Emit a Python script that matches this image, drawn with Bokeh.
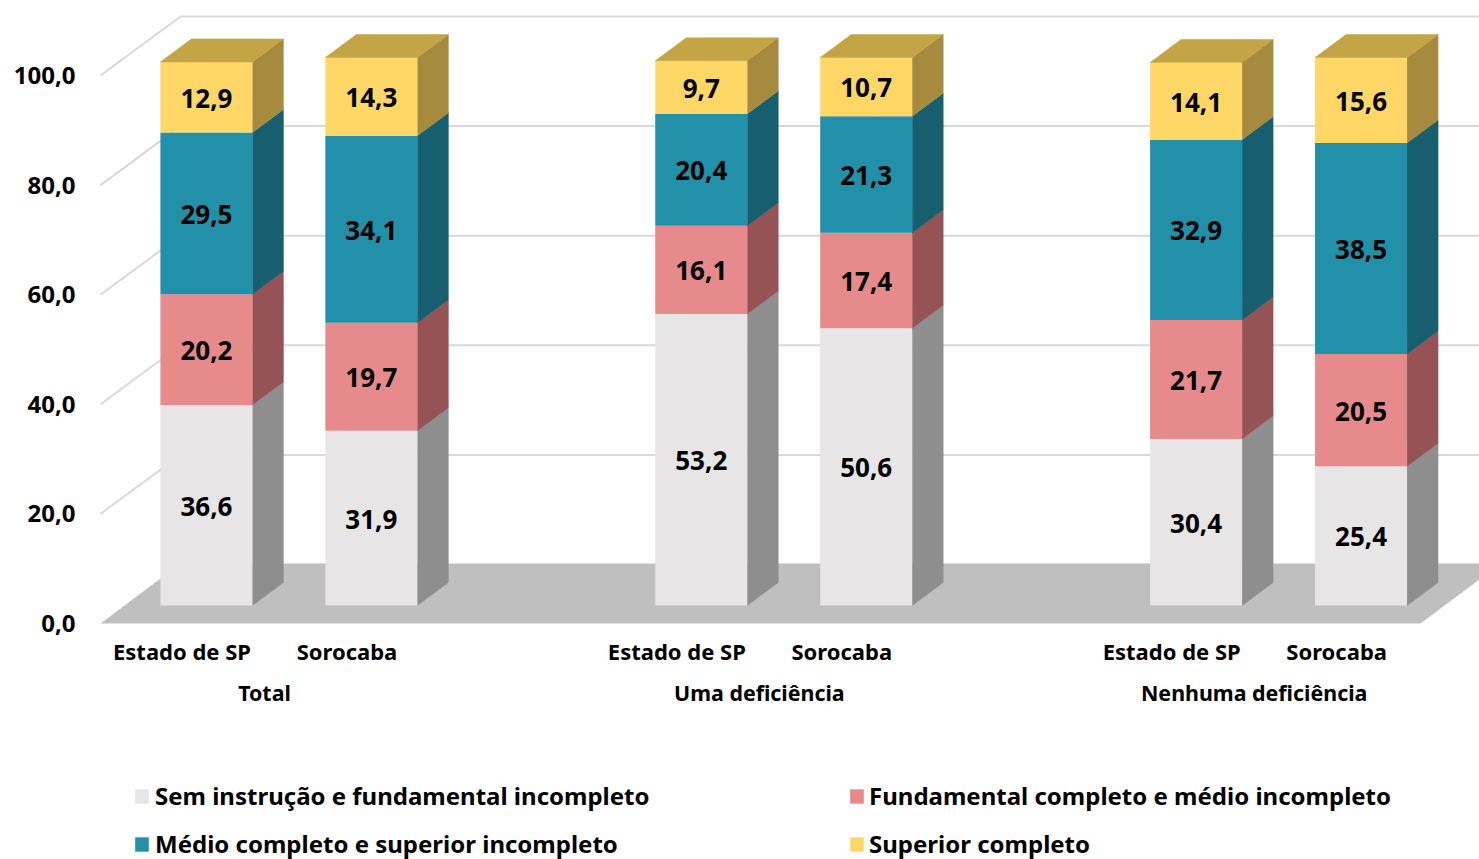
from bokeh.plotting import figure
from bokeh.models import (ColumnDataSource, FixedTicker, LinearAxis, Range1d, Legend, LegendItem)
from bokeh.embed import file_html
from bokeh.resources import INLINE
from bokeh.core.properties import value

# ---- data ----
places = ["Estado de SP", "Sorocaba", "Estado de SP", "Sorocaba", "Estado de SP", "Sorocaba"]
groups = ["Total", "Uma deficiência", "Nenhuma deficiência"]
series_names = ["Sem instrução e fundamental incompleto",
                "Fundamental completo e médio incompleto",
                "Médio completo e superior incompleto",
                "Superior completo"]
sem_instrucao = [36.6, 31.9, 53.2, 50.6, 30.4, 25.4]
fundamental = [20.2, 19.7, 16.1, 17.4, 21.7, 20.5]
medio = [29.5, 34.1, 20.4, 21.3, 32.9, 38.5]
superior = [12.9, 14.3, 9.7, 10.7, 14.1, 15.6]
y_ticks = [0, 20, 40, 60, 80, 100]
y_tick_labels = ["0,0", "20,0", "40,0", "60,0", "80,0", "100,0"]

# ---- style / geometry ----
front_cols = ["#E7E5E6", "#E68A8C", "#2190A8", "#FFD766"]
side_cols = ["#8E8E8E", "#955356", "#175E6E", "#A68B3F"]
top_col = "#C4A546"
floor_col = "#BFBFBF"
grid_col = "#D9D9D9"
FONT = "Noto Sans"

W, H = 1479, 859
FRAME_L = 80
PX_CAT = 164.95          # px per category step
X0 = 182.5               # page px of category 0
PX_VAL = 5.48            # px per y unit
Y0 = 623                 # page px of value 0

def xd(px):
    return (px - X0) / PX_CAT

def dy(px):
    return px / PX_VAL

def yd(px):
    return (Y0 - px) / PX_VAL

x_pos = [0, 1, 3, 4, 6, 7]
group_pos = [0.5, 3.5, 6.5]
bar_shift = 23.4 / PX_CAT
bar_half = 46 / PX_CAT
depth_x = 31 / PX_CAT
depth_y = dy(23)
base = dy(18)
wall_x = 80 / PX_CAT
wall_y = dy(60)
grid_rise = dy(59)
floor_left = -0.5
label_nudge_x = 1 / PX_CAT
label_nudge_y = dy(1)

p = figure(width=W, height=H, output_backend="svg", toolbar_location=None,
           x_range=Range1d(xd(FRAME_L), xd(W)),
           y_range=Range1d(yd(H), yd(0)),
           min_border_left=FRAME_L, min_border_right=0,
           min_border_top=0, min_border_bottom=0,
           outline_line_color=None, background_fill_color=None)
p.xaxis.visible = False
p.yaxis.visible = False
p.xgrid.visible = False
p.ygrid.visible = False

# floor
fx = [floor_left, floor_left + wall_x, xd(1420) + wall_x, xd(1420)]
p.patch(fx, [0, wall_y, wall_y, 0], fill_color=floor_col, line_color=None)

# wall grid
gx, gy = [], []
for t in y_ticks[1:]:
    gx.append([floor_left, floor_left + wall_x, xd(1500)])
    gy.append([t, t + grid_rise, t + grid_rise])
p.multi_line(gx, gy, line_color=grid_col, line_width=2)

# bars
series = [sem_instrucao, fundamental, medio, superior]
cum = [0.0] * len(x_pos)
lefts = [x + bar_shift - bar_half for x in x_pos]
rights = [x + bar_shift + bar_half for x in x_pos]
centers = [x + bar_shift for x in x_pos]
fronts = []
lab_x, lab_y, lab_t = [], [], []
for s, vals in enumerate(series):
    bottoms = [base + c for c in cum]
    tops = [b + v for b, v in zip(bottoms, vals)]
    src = ColumnDataSource(dict(left=lefts, right=rights, bottom=bottoms, top=tops))
    side_x = [[r, r + depth_x, r + depth_x, r] for r in rights]
    side_y = [[b, b + depth_y, t + depth_y, t] for b, t in zip(bottoms, tops)]
    p.patches(side_x, side_y, fill_color=side_cols[s], line_color=side_cols[s], line_width=0.5)
    fronts.append(p.quad(left="left", right="right", bottom="bottom", top="top", source=src,
                         fill_color=front_cols[s], line_color=None))
    lab_x += centers
    lab_y += [(b + t) / 2 - label_nudge_y for b, t in zip(bottoms, tops)]
    lab_t += [f"{v:.1f}".replace(".", ",") for v in vals]
    cum = [c + v for c, v in zip(cum, vals)]

top_y0 = [base + c for c in cum]
top_x = [[l, l + depth_x, r + depth_x, r] for l, r in zip(lefts, rights)]
top_y = [[t, t + depth_y, t + depth_y, t] for t in top_y0]
p.patches(top_x, top_y, fill_color=top_col, line_color=top_col, line_width=0.5)

p.text(lab_x, lab_y, text=lab_t, text_align="center", text_baseline="middle",
       text_font=value("Open Sans"), text_font_style="bold", text_font_size="26px", text_color="#000000")

# axes
yax = LinearAxis(ticker=FixedTicker(ticks=y_ticks),
                 major_label_overrides={t: l for t, l in zip(y_ticks, y_tick_labels)},
                 axis_line_color=None, major_tick_line_color=None, minor_tick_line_color=None,
                 major_label_standoff=-1, major_label_text_font=FONT,
                 major_label_text_font_style="bold", major_label_text_font_size="24px",
                 major_label_text_color="#000000")
p.add_layout(yax, "left")

p.text([x - label_nudge_x for x in x_pos], [yd(650)] * len(x_pos), text=places,
       text_align="center", text_baseline="middle",
       text_font=value(FONT), text_font_style="bold", text_font_size="22px", text_color="#000000")
p.text([x - label_nudge_x for x in group_pos], [yd(692)] * len(group_pos), text=groups,
       text_align="center", text_baseline="middle",
       text_font=value(FONT), text_font_style="bold", text_font_size="21.4px", text_color="#000000")

# legends
def make_legend(idx, x_px, standoff):
    return Legend(items=[LegendItem(label=series_names[i], renderers=[fronts[i]]) for i in idx],
                  location=(x_px - FRAME_L, -1), orientation="vertical",
                  glyph_width=17, glyph_height=18, label_standoff=standoff, spacing=15,
                  padding=0, margin=0, border_line_color=None, background_fill_alpha=0,
                  label_text_font=FONT, label_text_font_style="bold",
                  label_text_font_size="24px", label_text_color="#000000")
p.add_layout(make_legend([0, 2], 133, 5))
p.add_layout(make_legend([1, 3], 848, 4))

open("out.html", "w").write(file_html(p, INLINE))
